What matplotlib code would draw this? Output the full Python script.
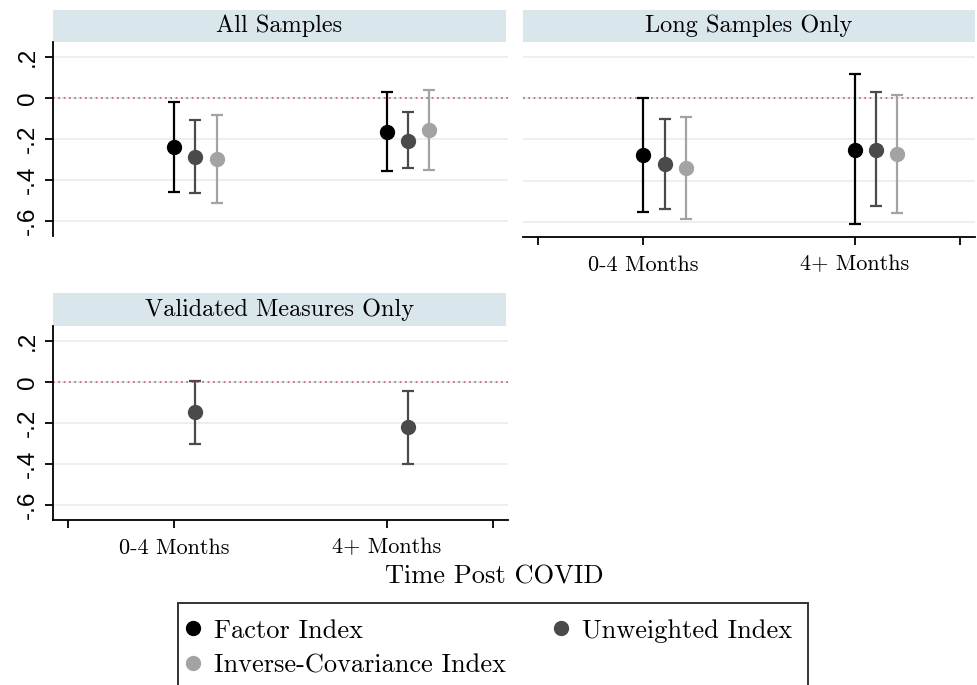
import matplotlib
matplotlib.use("Agg")
import matplotlib.pyplot as plt
from matplotlib.patches import Rectangle
from matplotlib.lines import Line2D

# ---------------- data ----------------
categories = ["0-4 Months", "4+ Months"]
series_names = ["Factor Index", "Unweighted Index", "Inverse-Covariance Index"]
y_ticks = [0.2, 0.0, -0.2, -0.4, -0.6]
y_tick_labels = [".2", "0", "-.2", "-.4", "-.6"]

# All Samples
all_factor = [-0.238, -0.165]
all_factor_lo = [-0.457, -0.357]
all_factor_hi = [-0.019, 0.029]
all_unw = [-0.287, -0.209]
all_unw_lo = [-0.465, -0.344]
all_unw_hi = [-0.108, -0.071]
all_inv = [-0.298, -0.157]
all_inv_lo = [-0.511, -0.352]
all_inv_hi = [-0.084, 0.037]

# Long Samples Only
long_factor = [-0.274, -0.250]
long_factor_lo = [-0.550, -0.608]
long_factor_hi = [0.002, 0.115]
long_unw = [-0.319, -0.250]
long_unw_lo = [-0.538, -0.522]
long_unw_hi = [-0.100, 0.029]
long_inv = [-0.339, -0.271]
long_inv_lo = [-0.587, -0.555]
long_inv_hi = [-0.092, 0.013]

# Validated Measures Only
val_unw = [-0.149, -0.222]
val_unw_lo = [-0.302, -0.400]
val_unw_hi = [0.005, -0.044]

# ---------------- style ----------------
plt.rcParams["axes.unicode_minus"] = False
SERIF = ["cmr10", "DejaVu Serif"]
SANS = ["Liberation Sans", "DejaVu Sans"]
colors = ["#000000", "#4a4a4a", "#a3a3a3"]
offsets = [0.0, 0.1, 0.2]
HEADER = "#d9e6ec"
GRID = "#e4eef0"
REF = "#c8506e"

W, H = 977, 685
fig = plt.figure(figsize=(W / 100, H / 100), dpi=100)


def rect(x0, y0, x1, y1):
    return [x0 / W, 1 - y1 / H, (x1 - x0) / W, (y1 - y0) / H]


def header(x0, y0, x1, y1, text):
    fig.add_artist(Rectangle((x0 / W, 1 - y1 / H), (x1 - x0) / W, (y1 - y0) / H,
                             transform=fig.transFigure, facecolor=HEADER,
                             edgecolor="none", zorder=0))
    fig.text((x0 + x1) / 2 / W, 1 - (y0 + y1) / 2 / H, text, ha="center",
             va="center", fontsize=17.5, family=SERIF)


def panel(r, show_y, show_x):
    ax = fig.add_axes(r)
    ax.set_xlim(0.43, 2.57)
    ax.set_ylim(-0.673, 0.271)
    for s in ["top", "right"]:
        ax.spines[s].set_visible(False)
    ax.spines["left"].set_visible(show_y)
    ax.spines["bottom"].set_visible(show_x)
    ax.spines["left"].set_linewidth(1.3)
    ax.spines["bottom"].set_linewidth(1.3)
    ax.set_yticks(y_ticks)
    for t in y_ticks:
        ax.axhline(t, color=GRID, lw=1.2, zorder=0)
    ax.axhline(0, color=REF, lw=1.2, ls=(0, (1, 2.2)), zorder=1)
    if show_y:
        ax.set_yticklabels(y_tick_labels, rotation=90, va="center",
                           fontsize=17.5, family=SANS)
        ax.tick_params(axis="y", length=6, width=1.3, direction="out", pad=4)
    else:
        ax.tick_params(axis="y", left=False, labelleft=False)
    ax.set_xticks([0.5, 1, 2, 2.5])
    if show_x:
        ax.set_xticklabels(["", categories[0], categories[1], ""],
                           fontsize=16, family=SERIF)
        ax.tick_params(axis="x", length=6, width=1.3, direction="out", pad=7)
    else:
        ax.tick_params(axis="x", bottom=False, labelbottom=False)
    return ax


def draw(ax, k, est, lo, hi):
    xs = [i + 1 + offsets[k] for i in range(len(est))]
    yerr = [[e - l for e, l in zip(est, lo)], [h - e for e, h in zip(est, hi)]]
    ax.errorbar(xs, est, yerr=yerr, fmt="o", color=colors[k], ms=10,
                ecolor=colors[k], elinewidth=1.6, capsize=4, capthick=1.6,
                zorder=3)


# Panel 1
header(53, 10, 506, 42, "All Samples")
ax1 = panel(rect(53, 42, 508, 236), True, False)
draw(ax1, 0, all_factor, all_factor_lo, all_factor_hi)
draw(ax1, 1, all_unw, all_unw_lo, all_unw_hi)
draw(ax1, 2, all_inv, all_inv_lo, all_inv_hi)

# Panel 2
header(523, 10, 975, 42, "Long Samples Only")
ax2 = panel(rect(523, 42, 975, 237), False, True)
draw(ax2, 0, long_factor, long_factor_lo, long_factor_hi)
draw(ax2, 1, long_unw, long_unw_lo, long_unw_hi)
draw(ax2, 2, long_inv, long_inv_lo, long_inv_hi)

# Panel 3
header(53, 293, 506, 326, "Validated Measures Only")
ax3 = panel(rect(53, 326, 508, 520), True, True)
draw(ax3, 1, val_unw, val_unw_lo, val_unw_hi)

fig.text(494 / W, 1 - 577 / H, "Time Post COVID", ha="center", va="center",
         fontsize=19, family=SERIF)

# legend frame (extends past the bottom edge, as in the reference)
fig.add_artist(Rectangle((178 / W, 1 - 700 / H), 630 / W, 97 / H,
                         transform=fig.transFigure, facecolor="white",
                         edgecolor="#333333", linewidth=1.4, zorder=1))

handles = [Line2D([], [], ls="none", marker="o", ms=10, color=c) for c in colors]
order = [0, 2, 1]  # column-major fill -> row 1: Factor, Unweighted; row 2: Inverse
leg = fig.legend([handles[i] for i in order], [series_names[i] for i in order],
                 ncol=2, loc="upper left",
                 bbox_to_anchor=(186 / W, 1 - 619 / H),
                 frameon=False, prop={"family": SERIF, "size": 19},
                 handletextpad=0.55, borderpad=0.0, labelspacing=0.42,
                 handlelength=0.5, columnspacing=1.85, borderaxespad=0)
leg.set_zorder(2)

fig.savefig("out.png", dpi=100)
